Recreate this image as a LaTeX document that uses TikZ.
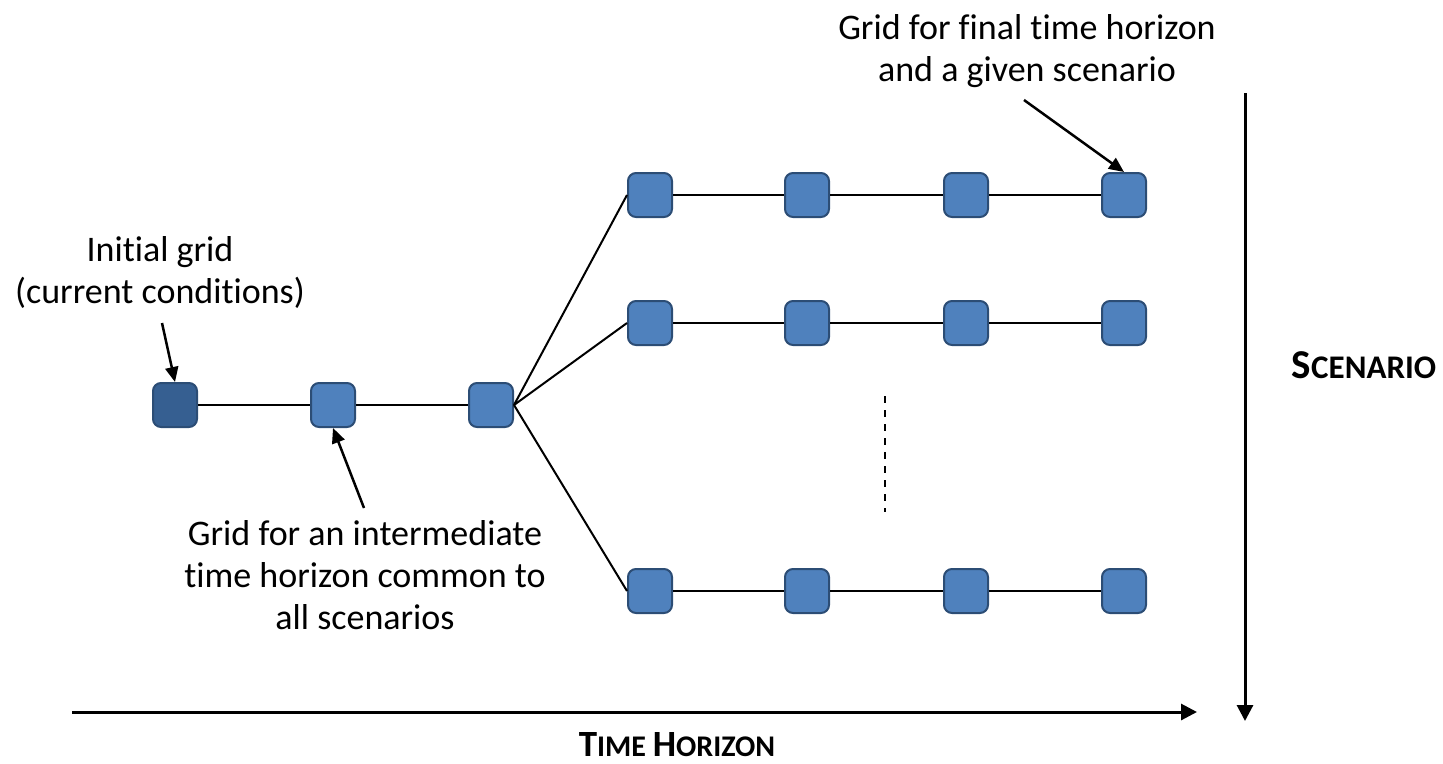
\documentclass[tikz,border=0pt]{standalone}
\usepackage{fontspec}
\setmainfont{Carlito}[Ligatures=NoCommon]
\usetikzlibrary{arrows.meta}
\definecolor{nodefill}{RGB}{79,129,189}
\definecolor{nodedark}{RGB}{54,95,145}
\definecolor{nodeborder}{RGB}{44,77,117}
\begin{document}
\begin{tikzpicture}[x=1pt,y=-1pt,
  gridbox/.style={draw=nodeborder, line width=2pt, fill=nodefill, rounded corners=8pt,
    minimum size=44pt, inner sep=0pt},
  darkbox/.style={gridbox, fill=nodedark},
  link/.style={line width=2pt, black},
  callout/.style={line width=2.5pt, -{Triangle[length=15pt,width=13pt]}},
  axisline/.style={line width=3pt, -{Triangle[length=16pt,width=16pt]}},
  label/.style={font=\fontsize{36}{42}\selectfont, align=center, inner sep=0pt},
  axislabel/.style={inner sep=0pt, font=\bfseries}
]
\useasboundingbox (0,0) rectangle (1443,763);

% chain
\node[darkbox] (n0) at (175,405) {};
\node[gridbox] (n1) at (333,405) {};
\node[gridbox] (n2) at (491,405) {};

% rows
\foreach \r/\y in {a/195, b/323, c/591}{
  \node[gridbox] (\r1) at (650,\y) {};
  \node[gridbox] (\r2) at (807,\y) {};
  \node[gridbox] (\r3) at (966,\y) {};
  \node[gridbox] (\r4) at (1124,\y) {};
}

\draw[link] (n0) -- (n1);
\draw[link] (n1) -- (n2);
\foreach \r in {a,b,c}{
  \draw[link] (n2.east) -- (\r1.west);
  \draw[link] (\r1) -- (\r2);
  \draw[link] (\r2) -- (\r3);
  \draw[link] (\r3) -- (\r4);
}

% dashed ellipsis
\coordinate (d1) at (885,396);
\coordinate (d2) at (885,512);
\draw[line width=2pt, dash pattern=on 7pt off 7pt] (d1) -- (d2);

% labels
\node[label, anchor=north] (tinit) at (160,236) {Initial grid\\(current conditions)};
\node[label, anchor=north] (tfinal) at (1027,14) {Grid for final time horizon\\and a given scenario};
\node[label, anchor=north] (tinter) at (365,520) {Grid for an intermediate\\time horizon common to\\all scenarios};

\coordinate (ci) at (162,323);
\draw[callout] (ci) -- (n0.north);
\coordinate (cf) at (1024,100);
\draw[callout] (cf) -- (a4.north);
\coordinate (cm) at (364,508);
\draw[callout] (cm) -- (n1.south);

% axes
\coordinate (ha) at (72,712);
\coordinate (hb) at (1197,712);
\coordinate (va) at (1245,93);
\coordinate (vb) at (1245,721);
\draw[axisline] (ha) -- (hb);
\draw[axisline] (va) -- (vb);

\node[axislabel, anchor=base] (tscen) at (1364,378)
  {\fontsize{41}{41}\selectfont S\fontsize{33}{33}\selectfont CENARIO};
\node[axislabel, anchor=base] (ttime) at (677,756)
  {\fontsize{37}{37}\selectfont T\fontsize{30}{30}\selectfont IME \fontsize{37}{37}\selectfont H\fontsize{30}{30}\selectfont ORIZON};
\end{tikzpicture}
\end{document}
